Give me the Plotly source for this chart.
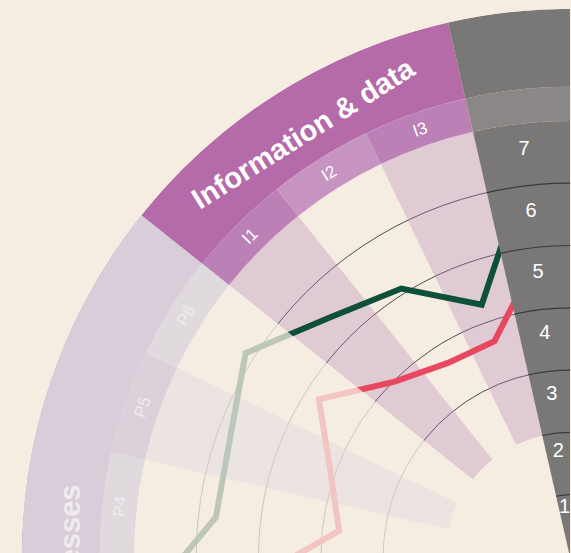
import math
import plotly.graph_objects as go

# ---------------- data ----------------
processes = ["P1", "P2", "P3", "P4", "P5", "P6"]
information = ["I1", "I2", "I3"]
group_names = ["Processes", "Information & data"]
scale_labels = ["1", "2", "3", "4", "5", "6", "7"]
scale_values = [1, 2, 3, 4, 5, 6, 7]

# series values (radial units); "scale" is the point hidden under the grey scale band
line_points = ["P3", "P4", "P5", "P6", "I1", "I2", "I3", "scale"]
green_values = [6.90, 5.72, 5.78, 6.15, 5.44, 5.09, 4.29, 6.24]
red_values = [5.58, 3.73, 4.07, 4.76, 3.98, 3.68, 3.67, 4.82]

# ---------------- layout constants ----------------
N_SLOTS = 28
SLOT = 360.0 / N_SLOTS
FIRST_SLOT = {"Processes": 18, "Information & data": 24}
SCALE_SLOT = 27
R_MAX = 8.8
WEDGE_BASE, CAT_IN, CAT_OUT = 2.0, 7.0, 7.55
GRID_VALUES = [3, 4, 5, 6]                     # arcs drawn across the plot area
SCALE_LABEL_R = [0.79, 1.69, 2.62, 3.6, 4.59, 5.58, 6.57]
GROUP_LABEL_R = 8.03

CX, CY = 570.0, 557.0
PX_PER_UNIT = 62.3
RADIUS = R_MAX * PX_PER_UNIT
W, H = int(2 * CX), int(2 * CY)
VIEW_W, VIEW_H = 571, 553
FONT = "Arial, Liberation Sans, sans-serif"

BG = "#f5ece2"
GRID = "#4d4d4d"
SEP = "#3a3a3a"
FADE = "rgba(245,236,226,0.76)"
GRAY = "#7a7877"
GRAY_RING = "#8b8786"
GREEN = "#0e5038"
RED = "#e8485f"
STYLE = {
    "Processes": dict(group="#7c6bbc", cat=["#897bc5", "#9d99d1"],
                      wedge="rgba(120,124,198,0.3)", text="#f1eaee"),
    "Information & data": dict(group="#b56ba9", cat=["#bb80b6", "#c794c2"],
                               wedge="rgba(175,126,183,0.3)", text="#ffffff"),
}
members = {"Processes": processes, "Information & data": information}


def slot_of(cat):
    if cat == "scale":
        return SCALE_SLOT
    for g, cats in members.items():
        if cat in cats:
            return FIRST_SLOT[g] + cats.index(cat)
    raise KeyError(cat)


def theta_of(cat):
    return (slot_of(cat) + 0.5) * SLOT


def to_px(r, theta_deg):
    t = math.radians(theta_deg)
    return CX + r * PX_PER_UNIT * math.sin(t), CY - r * PX_PER_UNIT * math.cos(t)


def to_paper(r, theta_deg):
    px, py = to_px(r, theta_deg)
    return px / W, 1 - py / H


def in_view(r, theta_deg, margin=0):
    px, py = to_px(r, theta_deg)
    return -margin <= px <= VIEW_W + margin and -margin <= py <= VIEW_H + margin


def signed(theta):
    return theta - 360 if theta > 180 else theta


fig = go.Figure()

# ---- polar (base layer) ----
for g in group_names:
    cats = members[g]
    st = STYLE[g]
    first = FIRST_SLOT[g]
    fig.add_trace(go.Barpolar(
        r=[R_MAX - CAT_OUT], base=[CAT_OUT],
        theta=[(first + len(cats) / 2) * SLOT], width=[len(cats) * SLOT],
        marker=dict(color=st["group"], line=dict(width=0)),
        subplot="polar", hoverinfo="skip"))
    fig.add_trace(go.Barpolar(
        r=[CAT_OUT - CAT_IN] * len(cats), base=[CAT_IN] * len(cats),
        theta=[theta_of(c) for c in cats], width=[SLOT] * len(cats),
        marker=dict(color=[st["cat"][slot_of(c) % 2] for c in cats], line=dict(width=0)),
        subplot="polar", hoverinfo="skip"))
    wc = [c for c in cats if slot_of(c) % 2 == 0]
    fig.add_trace(go.Barpolar(
        r=[CAT_IN - WEDGE_BASE] * len(wc), base=[WEDGE_BASE] * len(wc),
        theta=[theta_of(c) for c in wc], width=[SLOT] * len(wc),
        marker=dict(color=st["wedge"], line=dict(width=0)),
        subplot="polar", hoverinfo="skip"))

for vals, col in [(green_values, GREEN), (red_values, RED)]:
    fig.add_trace(go.Scatterpolar(
        r=vals, theta=[theta_of(c) for c in line_points], mode="lines",
        line=dict(color=col, width=6), subplot="polar", hoverinfo="skip"))

# ---- polar2 (overlay layer): fade of non-focused groups + grey scale band ----
half = FIRST_SLOT["Information & data"] / 2
fig.add_trace(go.Barpolar(
    r=[R_MAX, R_MAX], base=[0, 0],
    theta=[half / 2 * SLOT, (half + half / 2) * SLOT], width=[half * SLOT, half * SLOT],
    marker=dict(color=FADE, line=dict(width=0)),
    subplot="polar2", hoverinfo="skip"))

fig.add_trace(go.Barpolar(
    r=[CAT_IN, CAT_OUT - CAT_IN, R_MAX - CAT_OUT], base=[0, CAT_IN, CAT_OUT],
    theta=[theta_of("scale")] * 3, width=[SLOT] * 3,
    marker=dict(color=[GRAY, GRAY_RING, GRAY], line=dict(width=0)),
    subplot="polar2", hoverinfo="skip"))

sep_w = 1.2 / PX_PER_UNIT
seps = scale_values[:-1]
fig.add_trace(go.Barpolar(
    r=[sep_w] * len(seps), base=[v - sep_w / 2 for v in seps],
    theta=[theta_of("scale")] * len(seps), width=[SLOT] * len(seps),
    marker=dict(color=SEP, line=dict(width=0)),
    subplot="polar2", hoverinfo="skip"))

fig.add_trace(go.Scatterpolar(
    r=SCALE_LABEL_R, theta=[theta_of("scale")] * len(scale_values),
    mode="text", text=scale_labels,
    textfont=dict(color="white", size=20, family=FONT),
    subplot="polar2", hoverinfo="skip"))

# ---- text labels along the rings (only those inside the visible window) ----
annotations = []
for g in group_names:
    cats = members[g]
    st = STYLE[g]
    gtheta = (FIRST_SLOT[g] + len(cats) / 2) * SLOT
    if in_view(GROUP_LABEL_R, gtheta, margin=60):
        x, y = to_paper(GROUP_LABEL_R, gtheta)
        annotations.append(dict(text="<b>%s</b>" % g, x=x, y=y, xref="paper", yref="paper",
                                showarrow=False, textangle=signed(gtheta),
                                xanchor="center", yanchor="middle",
                                font=dict(color=st["text"], size=29, family=FONT)))
    for c in cats:
        th = theta_of(c)
        rr = (CAT_IN + CAT_OUT) / 2
        if not in_view(rr, th):
            continue
        x, y = to_paper(rr, th)
        annotations.append(dict(text=c, x=x, y=y, xref="paper", yref="paper",
                                showarrow=False, textangle=signed(th),
                                xanchor="center", yanchor="middle",
                                font=dict(color=st["text"], size=17, family=FONT)))

dom_x = [(CX - RADIUS) / W, (CX + RADIUS) / W]
dom_y = [(H - CY - RADIUS) / H, (H - CY + RADIUS) / H]
angular = dict(rotation=90, direction="clockwise", showgrid=False, showline=False,
               showticklabels=False, ticks="")

fig.update_layout(
    width=W, height=H, margin=dict(l=0, r=0, t=0, b=0, pad=0),
    paper_bgcolor=BG, showlegend=False, annotations=annotations,
    polar=dict(domain=dict(x=dom_x, y=dom_y), bgcolor=BG, barmode="overlay", hole=0,
               radialaxis=dict(range=[0, R_MAX], tickvals=GRID_VALUES, showgrid=True,
                               gridcolor=GRID, gridwidth=1, showline=False,
                               showticklabels=False, ticks=""),
               angularaxis=angular),
    polar2=dict(domain=dict(x=dom_x, y=dom_y), bgcolor="rgba(0,0,0,0)", barmode="overlay", hole=0,
                radialaxis=dict(range=[0, R_MAX], visible=False),
                angularaxis=dict(angular, visible=False)),
)

fig.write_html("out.html", post_script=(
    "document.body.style.margin='0px';document.body.style.overflow='hidden';"
    "document.body.style.background='%s';" % BG))
